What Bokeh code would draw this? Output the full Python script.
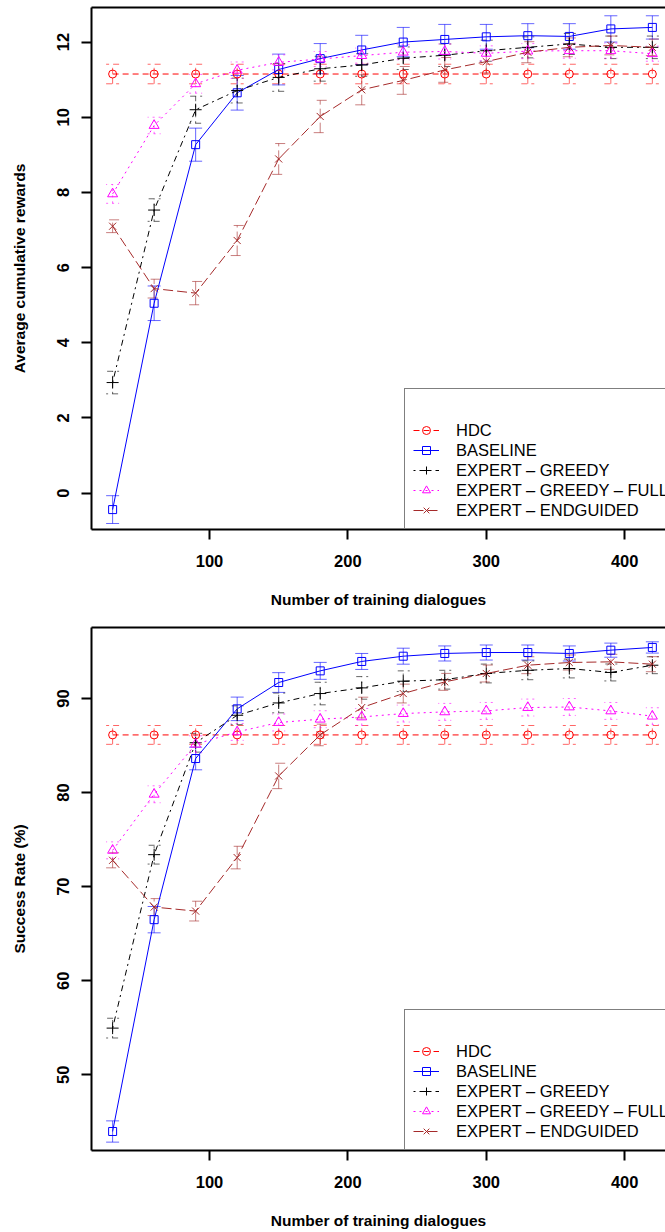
from bokeh.plotting import figure
from bokeh.models import (ColumnDataSource, Whisker, TeeHead, Legend, LegendItem,
                          LinearAxis, FixedTicker, Range1d)
from bokeh.layouts import column
from bokeh.embed import file_html
from bokeh.resources import INLINE

# ---------------- data ----------------
x = [30, 60, 90, 120, 150, 180, 210, 240, 270, 300, 330, 360, 390, 420]
series_names = ["HDC", "BASELINE", "EXPERT – GREEDY", "EXPERT – GREEDY – FULL", "EXPERT – ENDGUIDED"]

# Average cumulative rewards
hdc_reward = [11.15, 11.15, 11.15, 11.15, 11.15, 11.15, 11.15, 11.15, 11.15, 11.15, 11.15, 11.15, 11.15, 11.15]
hdc_reward_err = [0.26, 0.26, 0.26, 0.26, 0.26, 0.26, 0.26, 0.26, 0.26, 0.26, 0.26, 0.26, 0.26, 0.26]
baseline_reward = [-0.44, 5.05, 9.27, 10.65, 11.27, 11.56, 11.79, 12.00, 12.07, 12.14, 12.17, 12.15, 12.35, 12.39]
baseline_reward_err = [0.37, 0.46, 0.44, 0.46, 0.41, 0.40, 0.39, 0.39, 0.40, 0.33, 0.32, 0.34, 0.35, 0.31]
greedy_reward = [2.94, 7.53, 10.20, 10.71, 11.06, 11.29, 11.39, 11.57, 11.65, 11.77, 11.86, 11.95, 11.86, 11.86]
greedy_reward_err = [0.30, 0.30, 0.36, 0.33, 0.37, 0.33, 0.30, 0.30, 0.30, 0.28, 0.28, 0.28, 0.30, 0.30]
full_reward = [7.96, 9.78, 10.89, 11.25, 11.46, 11.55, 11.64, 11.73, 11.75, 11.70, 11.76, 11.77, 11.77, 11.69]
full_reward_err = [0.25, 0.22, 0.25, 0.22, 0.20, 0.20, 0.20, 0.20, 0.20, 0.20, 0.20, 0.20, 0.20, 0.20]
endg_reward = [7.10, 5.44, 5.32, 6.72, 8.89, 10.02, 10.73, 10.98, 11.26, 11.48, 11.73, 11.86, 11.91, 11.86]
endg_reward_err = [0.17, 0.25, 0.31, 0.40, 0.41, 0.43, 0.40, 0.37, 0.33, 0.30, 0.28, 0.25, 0.25, 0.22]

# Success rate (%)
hdc_success = [86.13, 86.13, 86.13, 86.13, 86.13, 86.13, 86.13, 86.13, 86.13, 86.13, 86.13, 86.13, 86.13, 86.13]
hdc_success_err = [1.0, 1.0, 1.0, 1.0, 1.0, 1.0, 1.0, 1.0, 1.0, 1.0, 1.0, 1.0, 1.0, 1.0]
baseline_success = [43.97, 66.49, 83.62, 88.90, 91.70, 92.94, 93.94, 94.50, 94.79, 94.89, 94.89, 94.79, 95.14, 95.43]
baseline_success_err = [1.13, 1.40, 1.20, 1.25, 1.05, 0.90, 0.85, 0.85, 0.80, 0.80, 0.80, 0.80, 0.75, 0.60]
greedy_success = [54.96, 73.40, 85.30, 88.22, 89.53, 90.53, 91.13, 91.84, 92.00, 92.66, 93.00, 93.19, 92.77, 93.54]
greedy_success_err = [1.05, 1.00, 1.00, 1.00, 1.05, 1.20, 1.20, 1.10, 1.00, 1.00, 1.00, 1.00, 0.90, 0.90]
full_success = [73.86, 79.82, 85.14, 86.45, 87.45, 87.80, 88.04, 88.40, 88.58, 88.68, 89.04, 89.10, 88.68, 88.12]
full_success_err = [0.90, 0.90, 0.90, 0.90, 0.90, 0.90, 0.90, 0.90, 0.90, 0.90, 0.90, 0.90, 0.90, 0.90]
endg_success = [72.80, 67.83, 67.40, 73.09, 81.77, 86.13, 89.04, 90.53, 91.77, 92.66, 93.54, 93.83, 93.90, 93.65]
endg_success_err = [0.80, 0.90, 1.05, 1.20, 1.35, 1.15, 1.10, 1.00, 0.90, 0.90, 0.90, 0.80, 0.80, 0.80]

x_ticks = [100, 200, 300, 400]
reward_ticks = [0, 2, 4, 6, 8, 10, 12]
success_ticks = [50, 60, 70, 80, 90]

# ---------------- styles ----------------
FONT = "Liberation Sans"
STYLES = [
    dict(color="#FF0000", dash="6 4", marker="circle", size=8),
    dict(color="#0000FF", dash="solid", marker="square", size=8),
    dict(color="#000000", dash="2 4 6 4", marker="cross", size=12),
    dict(color="#FF00FF", dash="2 4", marker="triangle", size=10),
    dict(color="#A52A2A", dash="10 4", marker="x", size=10),
]


def make_panel(values, errors, yr, yticks, ylabel, height, b_top, b_bottom, xl_standoff):
    p = figure(width=665, height=height, x_range=Range1d(14.74, 429.5), y_range=Range1d(*yr),
               output_backend="svg", toolbar_location=None,
               min_border_left=91, min_border_right=0, min_border_top=b_top,
               min_border_bottom=b_bottom)
    p.outline_line_color = None
    p.xgrid.grid_line_color = None
    p.ygrid.grid_line_color = None
    p.background_fill_color = "white"
    p.border_fill_color = "white"

    for ax, ticks in ((p.xaxis[0], x_ticks), (p.yaxis[0], yticks)):
        ax.ticker = FixedTicker(ticks=ticks)
        ax.axis_line_width = 2
        ax.axis_line_color = "black"
        ax.major_tick_line_width = 2
        ax.major_tick_out = 10
        ax.major_tick_in = 0
        ax.minor_tick_line_color = None
        ax.major_label_text_font = FONT
        ax.major_label_text_font_size = "16.5px"
        ax.major_label_text_font_style = "bold"
        ax.major_label_text_color = "black"
        ax.axis_label_text_font = FONT
        ax.axis_label_text_font_size = "15.5px"
        ax.axis_label_text_font_style = "bold"
        ax.axis_label_text_color = "black"
    p.xaxis[0].axis_label = "Number of training dialogues"
    p.xaxis[0].major_label_standoff = 15
    p.xaxis[0].axis_label_standoff = xl_standoff
    p.yaxis[0].axis_label = ylabel
    p.yaxis[0].major_label_orientation = "vertical"
    p.yaxis[0].major_label_standoff = 12
    p.yaxis[0].axis_label_standoff = 27

    top = LinearAxis(ticker=FixedTicker(ticks=[]), axis_line_width=2, axis_line_color="black",
                     major_tick_out=0, major_tick_in=0, minor_tick_out=0, minor_tick_in=0,
                     major_label_standoff=0, major_tick_line_color=None,
                     minor_tick_line_color=None)
    p.add_layout(top, "above")

    items = []
    for name, vals, errs, st in zip(series_names, values, errors, STYLES):
        lo = [v - e for v, e in zip(vals, errs)]
        hi = [v + e for v, e in zip(vals, errs)]
        src = ColumnDataSource(dict(x=x, y=vals, lo=lo, hi=hi))
        head_kw = dict(size=13, line_color=st["color"], line_alpha=0.6,
                       line_dash=st["dash"], line_width=1)
        w = Whisker(source=src, base="x", lower="lo", upper="hi", dimension="height",
                    line_color=st["color"], line_alpha=0.6, line_dash=st["dash"], line_width=1,
                    upper_head=TeeHead(**head_kw), lower_head=TeeHead(**head_kw))
        p.add_layout(w)
        r_line = p.line("x", "y", source=src, line_color=st["color"], line_dash=st["dash"],
                        line_width=1)
        r_pt = p.scatter("x", "y", source=src, marker=st["marker"], size=st["size"],
                         line_color=st["color"], fill_color=None, line_width=1)
        items.append(LegendItem(label=name, renderers=[r_line, r_pt]))

    leg = Legend(items=items, location=(313, 0), orientation="vertical",
                 border_line_color="black", border_line_width=1,
                 background_fill_color="white", background_fill_alpha=1,
                 label_text_font=FONT, label_text_font_size="16.5px",
                 label_text_color="black", label_text_baseline="middle",
                 glyph_width=26, glyph_height=20, label_height=20, label_standoff=17,
                 spacing=0, padding=8, margin=0,
                 title=" ", title_text_font_size="14px", title_standoff=7)
    p.add_layout(leg, "center")
    return p


p1 = make_panel([hdc_reward, baseline_reward, greedy_reward, full_reward, endg_reward],
                [hdc_reward_err, baseline_reward_err, greedy_reward_err, full_reward_err, endg_reward_err],
                (-0.97, 12.92), reward_ticks, "Average cumulative rewards",
                height=620, b_top=7, b_bottom=91, xl_standoff=21)
p2 = make_panel([hdc_success, baseline_success, greedy_success, full_success, endg_success],
                [hdc_success_err, baseline_success_err, greedy_success_err, full_success_err, endg_success_err],
                (41.95, 97.55), success_ticks, "Success Rate (%)",
                height=612, b_top=7, b_bottom=82, xl_standoff=21)

layout = column(p1, p2, spacing=0)
open("out.html", "w").write(file_html(layout, INLINE))
